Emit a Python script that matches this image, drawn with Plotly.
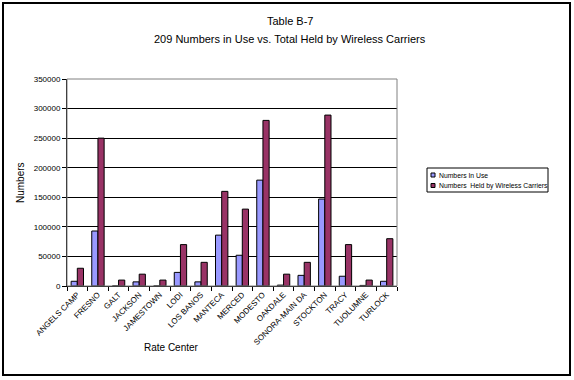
import plotly.graph_objects as go

categories = ["ANGELS CAMP", "FRESNO", "GALT", "JACKSON", "JAMESTOWN", "LODI", "LOS BANOS",
              "MANTECA", "MERCED", "MODESTO", "OAKDALE", "SONORA-MAIN DA", "STOCKTON",
              "TRACY", "TUOLUMNE", "TURLOCK"]
in_use = [8000, 93000, 0, 7000, 0, 23000, 7000, 86000, 52000, 179000, 1500, 18000, 147000, 16500, 1000, 8000]
held = [30000, 250000, 10000, 20000, 10000, 70000, 40000, 160000, 130000, 280000, 20000, 40000, 289000, 70000, 10000, 80000]
y_ticks = [0, 50000, 100000, 150000, 200000, 250000, 300000, 350000]
series_names = ["Numbers In Use", "Numbers  Held by Wireless Carriers"]
series_colors = ["#9999FF", "#993366"]

FONT = "Liberation Sans, Arial, sans-serif"

fig = go.Figure()
for vals, name, col in zip([in_use, held], series_names, series_colors):
    fig.add_trace(go.Bar(x=categories, y=vals, name=name, showlegend=False,
                         marker=dict(color=col, line=dict(color="black", width=1))))

L, R, T, B = 67, 177, 79, 94
W, H = 574, 380
pw, ph = W - L - R, H - T - B

def px(x):
    return (x - L) / pw

def py(y):
    return (H - B - y) / ph

annotations = [
    dict(text="Table B-7", xref="paper", yref="paper", x=px(290), y=py(21),
         showarrow=False, xanchor="center", yanchor="middle", font=dict(size=11)),
    dict(text="209 Numbers in Use vs. Total Held by Wireless Carriers", xref="paper",
         yref="paper", x=px(290), y=py(39), showarrow=False, xanchor="center",
         yanchor="middle", font=dict(size=11)),
    dict(text="Rate Center", xref="paper", yref="paper", x=px(171), y=py(347),
         showarrow=False, xanchor="center", yanchor="middle", font=dict(size=10)),
    dict(text="Numbers", xref="paper", yref="paper", x=px(20), y=py(183),
         showarrow=False, xanchor="center", yanchor="middle", textangle=-90,
         font=dict(size=10)),
]
shapes = [
    dict(type="rect", xref="paper", yref="paper", x0=0, x1=1, y0=0, y1=1,
         line=dict(color="#808080", width=1), layer="above"),
    dict(type="rect", xref="paper", yref="paper",
         x0=px(3), x1=px(570), y0=py(375), y1=py(3),
         line=dict(color="black", width=2)),
    # legend box
    dict(type="rect", xref="paper", yref="paper",
         x0=px(427), x1=px(548), y0=py(192), y1=py(168),
         line=dict(color="black", width=1), fillcolor="white"),
]
for i, (name, col) in enumerate(zip(series_names, series_colors)):
    yc = 175 + i * 10.5
    shapes.append(dict(type="rect", xref="paper", yref="paper",
                       x0=px(431), x1=px(435), y0=py(yc + 2), y1=py(yc - 2),
                       line=dict(color="black", width=1), fillcolor=col))
    annotations.append(dict(text=name, xref="paper", yref="paper", x=px(437), y=py(yc),
                            showarrow=False, xanchor="left", yanchor="middle",
                            font=dict(size=6.8)))

fig.update_layout(
    width=W, height=H,
    margin=dict(l=L, r=R, t=T, b=B, autoexpand=False),
    paper_bgcolor="white", plot_bgcolor="white",
    barmode="group", bargap=0.4, bargroupgap=0,
    font=dict(family=FONT, size=8, color="black"),
    showlegend=False,
    xaxis=dict(type="category", tickangle=-45, ticks="outside", tickson="boundaries",
               ticklen=4, tickcolor="black", showline=True, linecolor="black", linewidth=1,
               tickfont=dict(size=8)),
    yaxis=dict(range=[0, 350000], tickvals=y_ticks, ticktext=[str(v) for v in y_ticks],
               ticks="outside", ticklen=4, tickcolor="black", showline=True, linecolor="black",
               linewidth=1, showgrid=True, gridcolor="black", gridwidth=1, zeroline=False,
               tickfont=dict(size=8)),
    annotations=annotations,
    shapes=shapes,
)

fig.write_html("out.html", config={"displayModeBar": False},
               post_script="document.body.style.margin='0px';")
